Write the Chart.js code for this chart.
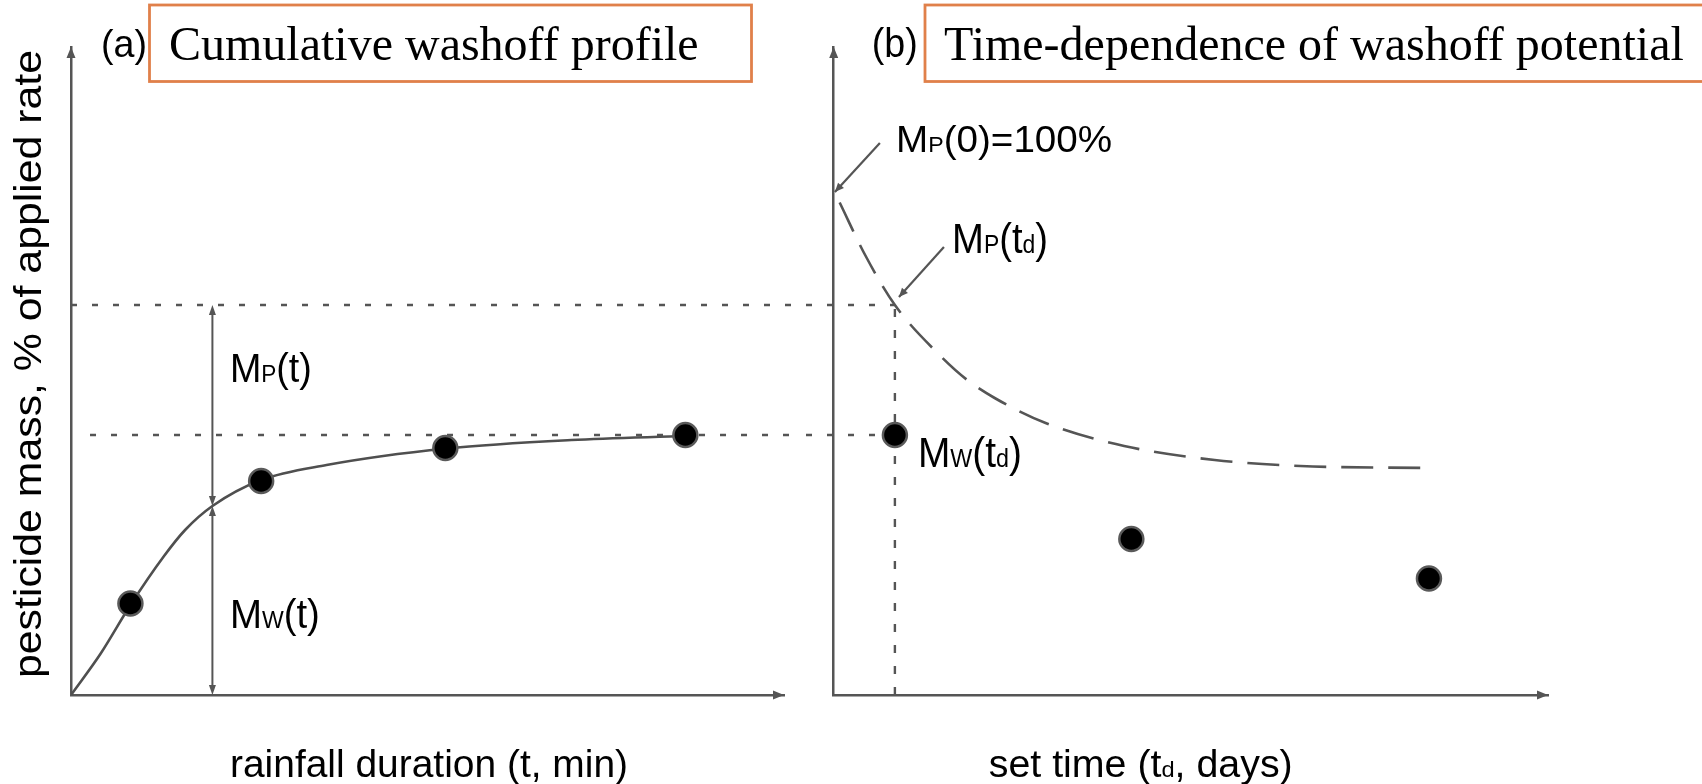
<!DOCTYPE html>
<html>
<head>
<meta charset="utf-8">
<script src="https://cdn.jsdelivr.net/npm/chart.js@4.4.1/dist/chart.umd.min.js"></script>
<style>
  html, body { margin: 0; padding: 0; background: #fff; }
  #wrap { position: relative; width: 1702px; height: 784px; overflow: hidden; }
  #wrap canvas { position: absolute; top: 0; }
</style>
</head>
<body>
<div id="wrap">
  <canvas id="chartA" width="800" height="784" style="left:0"></canvas>
  <canvas id="chartB" width="902" height="784" style="left:800px"></canvas>
</div>
<script>
// (a) cumulative washoff profile: rainfall duration (min) vs % of applied rate
const washoffCurveT = [0, 2.5, 5.0, 7.8, 9.6, 11.9, 16, 21.5, 31.6, 42.1, 51.7];
const washoffCurveM = [0, 8.3, 18, 27.7, 33, 37.8, 43, 46, 49.3, 51, 51.8];
const washoffObsT = [5.0, 16.0, 31.5, 51.7];
const washoffObsM = [18.3, 42.8, 49.4, 52];
const tMark = 11.9;     // rainfall duration t marked by the double arrow
const mwAtT = 37.8;     // Mw(t) on the curve at t
const mpLevel = 78;     // Mp(td), upper dotted line
const mwLevel = 52;     // Mw(td), lower dotted line

// (b) time-dependence of washoff potential: set time (days)
const decayTd = [0.25, 1.32, 2.57, 4.4, 5.58, 6.76, 8.9, 12.2, 16, 19.6, 24.9];
const decayMp = [98.5, 88.0, 78, 68.2, 63.1, 59.4, 54.4, 49.8, 47, 45.8, 45.4];
const setObsTd = [2.57, 12.5, 25.0];
const setObsMw = [52, 31.2, 23.3];
const tdMark = 2.57;

const xMaxA = 60, xMaxB = 30, yMax = 129.6;

const INK = '#555555';
const ORANGE = '#E0804A';
const SANS = '"Liberation Sans", Arial, sans-serif';
const SERIF = '"Liberation Serif", "Times New Roman", serif';

function pts(xs, ys) { return xs.map((x, i) => ({ x: x, y: ys[i] })); }

function arrowHead(ctx, x, y, angle, len, half) {
  ctx.save();
  ctx.translate(x, y);
  ctx.rotate(angle);
  ctx.beginPath();
  ctx.moveTo(0, 0);
  ctx.lineTo(-len, -half);
  ctx.lineTo(-len, half);
  ctx.closePath();
  ctx.fillStyle = INK;
  ctx.fill();
  ctx.restore();
}

function line(ctx, x1, y1, x2, y2, w, dash, offset) {
  ctx.save();
  ctx.strokeStyle = INK;
  ctx.lineWidth = w;
  ctx.setLineDash(dash || []);
  ctx.lineDashOffset = offset || 0;
  ctx.beginPath();
  ctx.moveTo(x1, y1);
  ctx.lineTo(x2, y2);
  ctx.stroke();
  ctx.restore();
}

// text made of runs, [text, isSubscript]; squeezed/stretched to a given width
function richText(ctx, parts, x, y, size, width, family, rot) {
  ctx.save();
  let natural = 0;
  parts.forEach(p => {
    ctx.font = (p[1] ? size * 0.6 : size) + 'px ' + family;
    natural += ctx.measureText(p[0]).width;
  });
  const sx = width ? width / natural : 1;
  ctx.translate(x, y);
  if (rot) ctx.rotate(rot);
  ctx.scale(sx, 1);
  ctx.textBaseline = 'alphabetic';
  ctx.textAlign = 'left';
  ctx.fillStyle = '#000';
  let cx = rot ? -natural / 2 : 0;
  parts.forEach(p => {
    ctx.font = (p[1] ? size * 0.6 : size) + 'px ' + family;
    ctx.fillText(p[0], cx, 0);
    cx += ctx.measureText(p[0]).width;
  });
  ctx.restore();
}

function axisArrows(chart) {
  const ctx = chart.ctx, a = chart.chartArea;
  arrowHead(ctx, a.left, a.top, -Math.PI / 2, 11, 4.5);
  arrowHead(ctx, a.right, a.bottom, 0, 11, 4.5);
}

const DOTS = [6, 15];

const panelA = {
  id: 'panelA',
  beforeDatasetsDraw(chart) {
    const ctx = chart.ctx, xs = chart.scales.x, ys = chart.scales.y;
    // guide lines running across into panel (b)
    line(ctx, xs.getPixelForValue(0), ys.getPixelForValue(mpLevel), chart.width, ys.getPixelForValue(mpLevel), 2.5, DOTS);
    line(ctx, xs.getPixelForValue(1.6), ys.getPixelForValue(mwLevel), chart.width, ys.getPixelForValue(mwLevel), 2.5, DOTS);
  },
  afterDatasetsDraw(chart) {
    const ctx = chart.ctx, xs = chart.scales.x, ys = chart.scales.y;
    axisArrows(chart);
    // Mp(t) / Mw(t) double arrows
    const px = xs.getPixelForValue(tMark);
    const yTop = ys.getPixelForValue(mpLevel), yMid = ys.getPixelForValue(mwAtT), yBot = ys.getPixelForValue(0);
    line(ctx, px, yTop + 8, px, yMid - 8, 2);
    line(ctx, px, yMid + 8, px, yBot - 8, 2);
    arrowHead(ctx, px, yTop, -Math.PI / 2, 10, 3.5);
    arrowHead(ctx, px, yMid, Math.PI / 2, 10, 3.5);
    arrowHead(ctx, px, yMid, -Math.PI / 2, 10, 3.5);
    arrowHead(ctx, px, yBot, Math.PI / 2, 10, 3.5);
    richText(ctx, [['M', 0], ['P', 1], ['(t)', 0]], xs.getPixelForValue(13.37), ys.getPixelForValue(62.6), 41, 82, SANS);
    richText(ctx, [['M', 0], ['W', 1], ['(t)', 0]], xs.getPixelForValue(13.37), ys.getPixelForValue(13.4), 41, 90, SANS);
  },
  afterDraw(chart) {
    const ctx = chart.ctx;
    // header
    richText(ctx, [['(a)', 0]], 101, 57, 39, 46, SANS);
    ctx.save();
    ctx.strokeStyle = ORANGE;
    ctx.lineWidth = 2.8;
    ctx.strokeRect(149.5, 5, 602, 76.5);
    ctx.restore();
    richText(ctx, [['Cumulative washoff profile', 0]], 169, 60, 48, 0, SERIF);
    // axis titles
    richText(ctx, [['pesticide mass, % of applied rate', 0]], 41, 364, 39, 628, SANS, -Math.PI / 2);
    richText(ctx, [['rainfall duration (t, min)', 0]], 230, 777, 38, 398, SANS);
  }
};

const panelB = {
  id: 'panelB',
  beforeDatasetsDraw(chart) {
    const ctx = chart.ctx, xs = chart.scales.x, ys = chart.scales.y;
    const tx = xs.getPixelForValue(tdMark);
    line(ctx, 0, ys.getPixelForValue(mpLevel), tx, ys.getPixelForValue(mpLevel), 2.5, DOTS, 15);
    line(ctx, 0, ys.getPixelForValue(mwLevel), tx, ys.getPixelForValue(mwLevel), 2.5, DOTS, 15);
    line(ctx, tx, ys.getPixelForValue(mpLevel) + 4, tx, ys.getPixelForValue(-2.4), 2.4, [8, 13]);
  },
  afterDatasetsDraw(chart) {
    const ctx = chart.ctx, xs = chart.scales.x, ys = chart.scales.y;
    axisArrows(chart);
    // pointer arrows
    const a1 = [xs.getPixelForValue(1.94), ys.getPixelForValue(110.4), xs.getPixelForValue(0.05), ys.getPixelForValue(100.6)];
    const a2 = [xs.getPixelForValue(4.63), ys.getPixelForValue(89.6), xs.getPixelForValue(2.74), ys.getPixelForValue(79.6)];
    [a1, a2].forEach(a => {
      line(ctx, a[0], a[1], a[2], a[3], 2.2);
      arrowHead(ctx, a[2], a[3], Math.atan2(a[3] - a[1], a[2] - a[0]), 9, 4);
    });
    richText(ctx, [['M', 0], ['P', 1], ['(0)=100%', 0]], xs.getPixelForValue(2.62), ys.getPixelForValue(108.6), 36, 216, SANS);
    richText(ctx, [['M', 0], ['P', 1], ['(t', 0], ['d', 1], [')', 0]], xs.getPixelForValue(4.97), ys.getPixelForValue(88.4), 42, 96, SANS);
    richText(ctx, [['M', 0], ['W', 1], ['(t', 0], ['d', 1], [')', 0]], xs.getPixelForValue(3.54), ys.getPixelForValue(45.6), 42, 104, SANS);
  },
  afterDraw(chart) {
    const ctx = chart.ctx;
    richText(ctx, [['(b)', 0]], 71.7, 57, 40, 46, SANS);
    ctx.save();
    ctx.strokeStyle = ORANGE;
    ctx.lineWidth = 2.8;
    ctx.strokeRect(125, 5, 800, 76.5);
    ctx.restore();
    richText(ctx, [['Time-dependence of washoff potential', 0]], 144, 60, 48, 0, SERIF);
    richText(ctx, [['set time (t', 0], ['d', 1], [', days)', 0]], 188.7, 777, 38, 304, SANS);
  }
};

function scaleOpts(max, horizontal) {
  return {
    type: 'linear', min: 0, max: max, display: true,
    ticks: { display: false },
    grid: { display: false, drawTicks: false },
    border: { display: true, color: INK, width: 2.5 },
    afterFit(s) { if (horizontal) s.height = 0; else s.width = 0; }
  };
}

function commonOptions(xMax, pad) {
  return {
    responsive: false,
    animation: false,
    layout: { padding: pad, autoPadding: false },
    plugins: { legend: { display: false }, title: { display: false }, tooltip: { enabled: false } },
    scales: { x: scaleOpts(xMax, true), y: scaleOpts(yMax, false) }
  };
}

const dot = {
  showLine: false, pointRadius: 12, pointHoverRadius: 12,
  pointBackgroundColor: '#000', pointBorderColor: '#5a5a5a', pointBorderWidth: 2.5
};

new Chart(document.getElementById('chartA'), {
  type: 'line',
  data: {
    datasets: [
      Object.assign({ label: 'washoff data', data: pts(washoffObsT, washoffObsM) }, dot),
      {
        label: 'cumulative washoff', data: pts(washoffCurveT, washoffCurveM),
        borderColor: '#4f4f4f', borderWidth: 2.6, pointRadius: 0,
        cubicInterpolationMode: 'monotone', fill: false
      }
    ]
  },
  options: commonOptions(xMaxA, { left: 71, right: 16, top: 47, bottom: 89 }),
  plugins: [panelA]
});

new Chart(document.getElementById('chartB'), {
  type: 'line',
  data: {
    datasets: [
      Object.assign({ label: 'washoff after set time', data: pts(setObsTd, setObsMw) }, dot),
      {
        label: 'washoff potential', data: pts(decayTd, decayMp),
        borderColor: INK, borderWidth: 2.6, borderDash: [32, 15], pointRadius: 0,
        cubicInterpolationMode: 'monotone', fill: false
      }
    ]
  },
  options: commonOptions(xMaxB, { left: 33.7, right: 154, top: 47, bottom: 89 }),
  plugins: [panelB]
});
</script>
</body>
</html>
